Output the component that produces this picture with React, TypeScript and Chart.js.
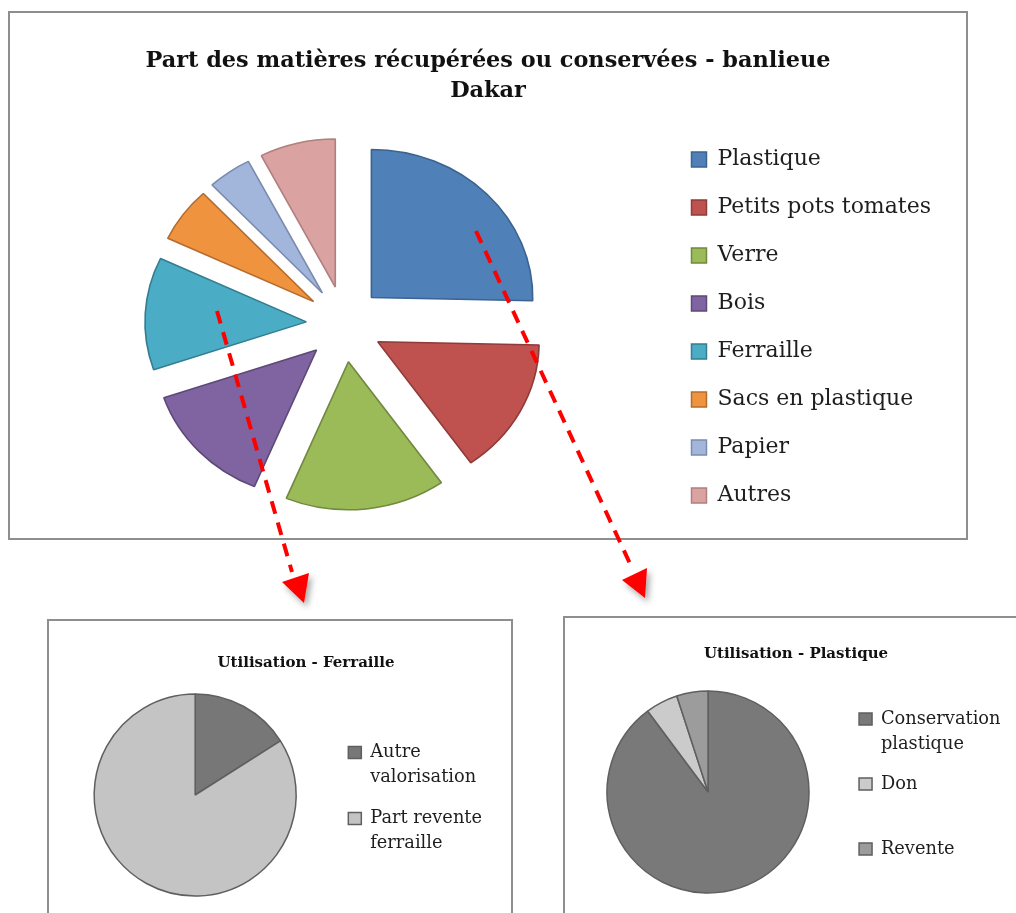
import React, { useEffect, useRef } from 'react';
import { Chart, registerables } from 'chart.js';

Chart.register(...registerables);

// ---------- data ----------
const mainTitleLines = ['Part des matières récupérées ou conservées - banlieue', 'Dakar'];
const mainCategories = [
  'Plastique',
  'Petits pots tomates',
  'Verre',
  'Bois',
  'Ferraille',
  'Sacs en plastique',
  'Papier',
  'Autres',
];
const mainValues = [25.4, 14.9, 16.1, 13.5, 12.3, 6.0, 4.4, 7.6];
const mainColors = ['#4f80b8', '#bf524e', '#9bbb59', '#8064a2', '#4bacc6', '#f0933f', '#a2b5da', '#dba2a2'];
const mainBorderColors = ['#3b6390', '#8e3b39', '#71893f', '#5d4977', '#357d91', '#b46c2e', '#7b8bb0', '#b07f7f'];

const ferraTitle = 'Utilisation - Ferraille';
const ferraCategories = [['Autre', 'valorisation'], ['Part revente', 'ferraille']];
const ferraValues = [16, 84];
const ferraColors = ['#777777', '#c4c4c4'];

const plastTitle = 'Utilisation - Plastique';
const plastCategories = [['Conservation', 'plastique'], ['Don', ''], ['Revente', '']];
const plastValues = [89.8, 5.2, 5.0];
const plastColors = ['#797979', '#cbcbcb', '#9c9c9c'];

const SERIF = 'DejaVu Serif';

// ---------- plugins ----------
const titleTextPlugin = {
  id: 'titleText',
  afterDraw(chart: any, _args: any, opts: any) {
    if (!opts || !opts.text) return;
    const ctx = chart.ctx;
    ctx.save();
    ctx.font = `bold ${opts.size}px ${opts.family}`;
    ctx.fillStyle = opts.color || '#000';
    ctx.textAlign = 'center';
    ctx.textBaseline = 'alphabetic';
    String(opts.text)
      .split('\n')
      .forEach((t: string, i: number) => ctx.fillText(t, opts.x, opts.y + i * opts.lineHeight));
    ctx.restore();
  },
};

const explodePlugin = {
  id: 'explode',
  beforeDatasetsDraw(chart: any, _args: any, opts: any) {
    if (!opts || (!opts.distance && !opts.scaleX)) return;
    const ctx = chart.ctx;
    const d = opts.distance || 0;
    const sx = opts.scaleX || 1;
    const meta = chart.getDatasetMeta(0);
    meta.data.forEach((arc: any) => {
      const mid = (arc.startAngle + arc.endAngle) / 2;
      ctx.save();
      ctx.translate(arc.x + Math.cos(mid) * d, arc.y + Math.sin(mid) * d);
      ctx.scale(sx, 1);
      ctx.translate(-arc.x, -arc.y);
      arc.draw(ctx);
      ctx.restore();
    });
    return false;
  },
};

// ---------- configs ----------
function mainConfig(): any {
  return {
    type: 'pie',
    data: {
      labels: mainCategories,
      datasets: [
        {
          data: mainValues,
          backgroundColor: mainColors,
          borderColor: mainBorderColors,
          borderWidth: 1.5,
          radius: 148,
        },
      ],
    },
    options: {
      responsive: false,
      animation: false,
      layout: { padding: { left: 13, right: 25, top: 97, bottom: 0 } },
      plugins: {
        legend: {
          position: 'right',
          align: 'center',
          title: { display: true, text: '', padding: 0, font: { size: 7, lineHeight: 1 } },
          labels: {
            boxWidth: 15,
            boxHeight: 15,
            padding: 26,
            color: '#1e1e1e',
            font: { family: SERIF, size: 22 },
          },
        },
        tooltip: { enabled: false },
        explode: { distance: 38, scaleX: 1.09 },
        titleText: {
          text: mainTitleLines.join('\n'),
          x: 478,
          y: 54,
          lineHeight: 30,
          size: 22.4,
          family: SERIF,
          color: '#111',
        },
      },
    },
    plugins: [explodePlugin, titleTextPlugin],
  };
}

function smallConfig(
  labels: any[],
  values: number[],
  colors: string[],
  title: string,
  pad: any,
  labelPadding: number,
  legendShift: number,
  titleX: number,
  titleY: number
): any {
  return {
    type: 'pie',
    data: {
      labels,
      datasets: [
        {
          data: values,
          backgroundColor: colors,
          borderColor: '#5f5f5f',
          borderWidth: 1.5,
          radius: 101,
        },
      ],
    },
    options: {
      responsive: false,
      animation: false,
      layout: { padding: pad },
      plugins: {
        legend: {
          position: 'right',
          align: 'center',
          title: { display: true, text: '', padding: 0, font: { size: legendShift, lineHeight: 1 } },
          labels: {
            boxWidth: 13,
            boxHeight: 12,
            padding: labelPadding,
            color: '#1e1e1e',
            font: { family: SERIF, size: 17.8, lineHeight: '25px' },
          },
        },
        tooltip: { enabled: false },
        titleText: {
          text: title,
          x: titleX,
          y: titleY,
          lineHeight: 20,
          size: 15,
          family: SERIF,
          color: '#111',
        },
      },
    },
    plugins: [titleTextPlugin],
  };
}

// ---------- components ----------
function ChartCanvas(props: { left: number; top: number; width: number; height: number; build: () => any }) {
  const ref = useRef<HTMLCanvasElement | null>(null);
  useEffect(() => {
    if (!ref.current) return;
    const chart = new Chart(ref.current, props.build());
    return () => chart.destroy();
  }, []);
  return (
    <canvas
      ref={ref}
      width={props.width}
      height={props.height}
      style={{
        position: 'absolute',
        left: props.left,
        top: props.top,
        width: props.width,
        height: props.height,
        display: 'block',
      }}
    />
  );
}

export default function App() {
  return (
    <div
      style={{
        position: 'absolute',
        left: 0,
        top: 0,
        width: 1016,
        height: 913,
        overflow: 'hidden',
        background: '#ffffff',
      }}
    >
      <div
        style={{
          position: 'absolute',
          left: 8,
          top: 11,
          width: 960,
          height: 529,
          border: '2px solid #8e8e8e',
          boxSizing: 'border-box',
        }}
      />
      <div
        style={{
          position: 'absolute',
          left: 47,
          top: 619,
          width: 466,
          height: 320,
          border: '2px solid #8e8e8e',
          boxSizing: 'border-box',
        }}
      />
      <div
        style={{
          position: 'absolute',
          left: 563,
          top: 616,
          width: 500,
          height: 320,
          border: '2px solid #8e8e8e',
          boxSizing: 'border-box',
        }}
      />
      <ChartCanvas left={10} top={13} width={956} height={525} build={mainConfig} />
      <ChartCanvas
        left={49}
        top={621}
        width={462}
        height={292}
        build={() =>
          smallConfig(ferraCategories, ferraValues, ferraColors, ferraTitle, { left: 9, right: 19, top: 62, bottom: 6 }, 16, 13, 257, 46)
        }
      />
      <ChartCanvas
        left={565}
        top={618}
        width={451}
        height={295}
        build={() =>
          smallConfig(plastCategories, plastValues, plastColors, plastTitle, { left: 7, right: 5.5, top: 60, bottom: 7 }, 15, 16.4, 231, 40)
        }
      />
      <svg
        width={1016}
        height={913}
        style={{ position: 'absolute', left: 0, top: 0, pointerEvents: 'none' }}
      >
        <defs>
          <filter id="arrowShadow" x="-60%" y="-60%" width="220%" height="220%">
            <feDropShadow dx="3" dy="4" stdDeviation="3" floodColor="#000" floodOpacity="0.35" />
          </filter>
        </defs>
        <line x1={217} y1={311} x2={292} y2={572} stroke="#ff0000" strokeWidth={4} strokeDasharray="13 9" />
        <polygon points="282,582 309,573 304,603" fill="#ff0000" filter="url(#arrowShadow)" />
        <line x1={476} y1={231} x2={632} y2={568} stroke="#ff0000" strokeWidth={4} strokeDasharray="13 9" />
        <polygon points="622,580 647,568 645,598" fill="#ff0000" filter="url(#arrowShadow)" />
      </svg>
    </div>
  );
}
